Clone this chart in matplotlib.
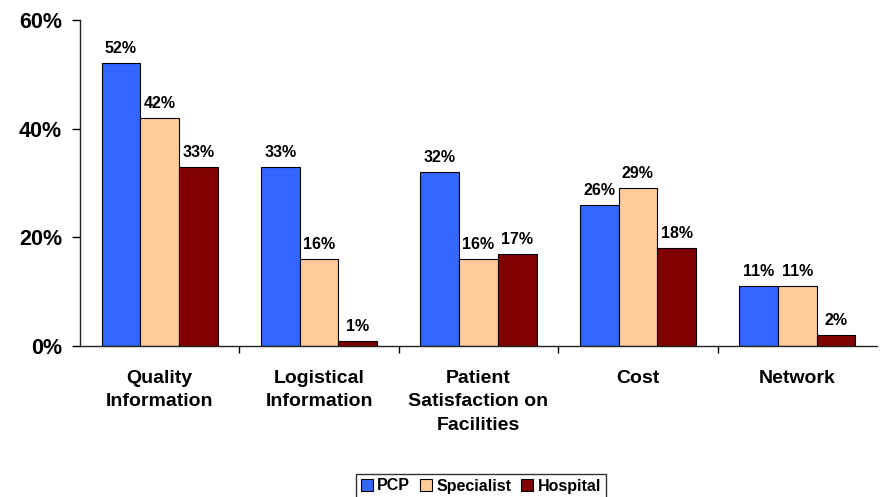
import matplotlib.pyplot as plt
import numpy as np

categories = ['Quality\nInformation', 'Logistical\nInformation',
              'Patient\nSatisfaction on\nFacilities', 'Cost', 'Network']
pcp = [52, 33, 32, 26, 11]
specialist = [42, 16, 16, 29, 11]
hospital = [33, 1, 17, 18, 2]

series = [('PCP', pcp, '#3366FF'),
          ('Specialist', specialist, '#FFCC99'),
          ('Hospital', hospital, '#800000')]

plt.rcParams['font.family'] = ['Liberation Sans', 'DejaVu Sans']
plt.rcParams['font.weight'] = 'bold'

fig = plt.figure(figsize=(8.91, 4.97), dpi=100)
ax = fig.add_axes([0.0898, 0.3038, 0.8945, 0.656])

x = np.arange(len(categories))
width = 0.243
for i, (name, vals, col) in enumerate(series):
    pos = x + (i - 1) * width
    bars = ax.bar(pos, vals, width=width, color=col, edgecolor='black',
                  linewidth=0.8, label=name)
    for b, v in zip(bars, vals):
        ax.text(b.get_x() + b.get_width() / 2, v + 1.3, '{}%'.format(v),
                ha='center', va='bottom', fontsize=11.5, fontweight='bold')

ax.set_xlim(-0.5, len(categories) - 0.5)
ax.set_ylim(0, 60)
ax.set_yticks([0, 20, 40, 60])
ax.set_yticklabels(['{}%'.format(t) for t in [0, 20, 40, 60]],
                   fontsize=15.5, fontweight='bold')
ax.set_xticks(x)
ax.set_xticklabels(categories, fontsize=14, fontweight='bold', linespacing=1.5)
ax.tick_params(axis='x', length=0, pad=17)
ax.set_xticks(np.arange(0.5, len(categories) - 0.5), minor=True)
ax.tick_params(axis='x', which='minor', length=5, width=1)
ax.tick_params(axis='y', length=6, width=1, pad=7)

for side in ['top', 'right']:
    ax.spines[side].set_visible(False)
for side in ['left', 'bottom']:
    ax.spines[side].set_color('#222222')
    ax.spines[side].set_linewidth(1)

leg = ax.legend(loc='center', bbox_to_anchor=(481 / 891, 11 / 497),
                bbox_transform=fig.transFigure, ncol=3, frameon=True,
                fancybox=False, edgecolor='black', fontsize=11.5,
                handlelength=0.75, handleheight=0.75, handletextpad=0.3,
                columnspacing=0.6, borderpad=0.3, borderaxespad=0)
leg.get_frame().set_linewidth(1)

fig.savefig('out.png', dpi=100)
